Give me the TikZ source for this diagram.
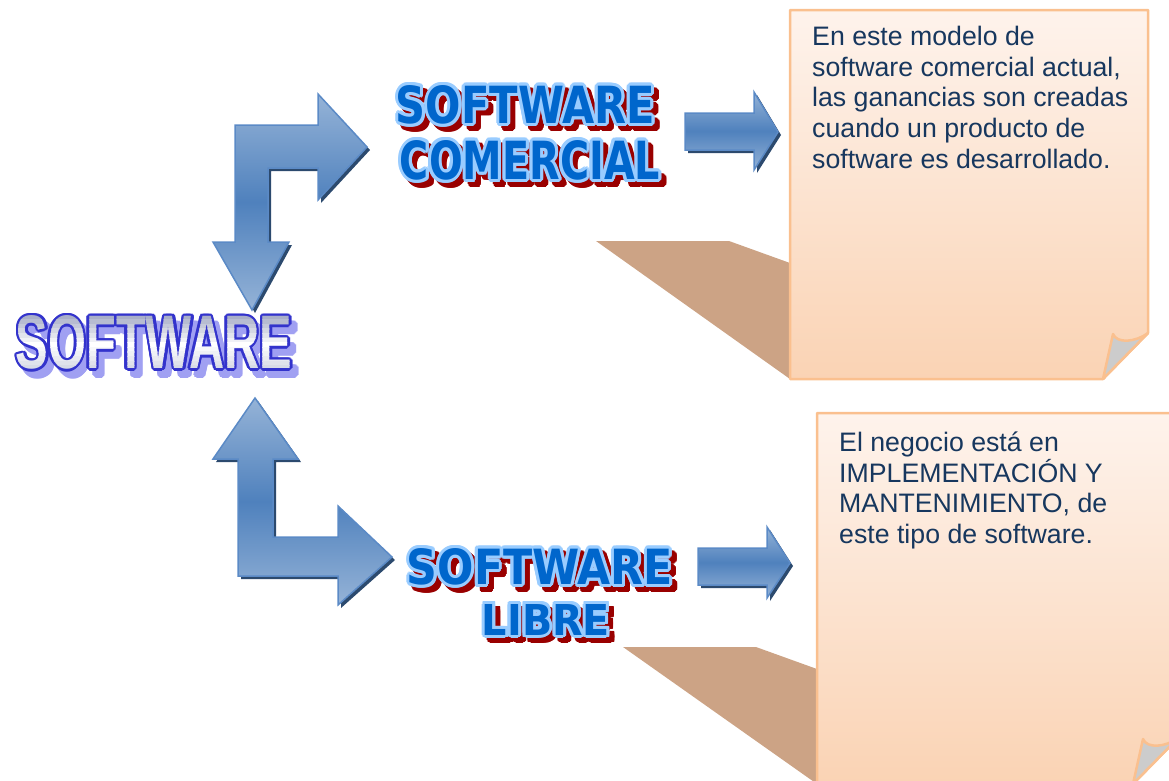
\documentclass[tikz,border=0pt]{standalone}
\usepackage{fontspec}
\setmainfont{Liberation Sans}
\newfontfamily\comfont{DejaVu Sans}
\newfontfamily\bigfont{Liberation Sans}
\usetikzlibrary{calc}
\definecolor{notetop}{HTML}{FEF3EC}
\definecolor{notebot}{HTML}{FAD3B4}
\definecolor{noteline}{HTML}{FAC08F}
\definecolor{notefold}{HTML}{CCCCCC}
\definecolor{noteshadow}{HTML}{CCA385}
\definecolor{notetext}{HTML}{17375E}
\definecolor{arrowlight}{HTML}{95B3D7}
\definecolor{arrowmid}{HTML}{4F81BD}
\definecolor{arrowline}{HTML}{5B8AC6}
\definecolor{arrowshadow}{HTML}{2C4A6E}
\definecolor{wafill}{HTML}{0066CC}
\definecolor{waline}{HTML}{99CCFF}
\definecolor{washadow}{HTML}{990000}
\definecolor{swline}{HTML}{3333CC}
\definecolor{swshadow}{HTML}{A0A0F2}
\definecolor{swtop}{HTML}{A9AFC8}
\tikzset{
  wa/.style={inner sep=0pt, anchor=center},
  blockarrow/.style={top color=arrowlight, bottom color=arrowlight, middle color=arrowmid,
    draw=arrowline, line width=1.5pt, line join=miter},
  arrowshade/.style={fill=arrowshadow, shift={(3,3)}},
  note/.style={top color=notetop, bottom color=notebot, draw=noteline, line width=2.5pt, line join=round},
  notefoldstyle/.style={fill=notefold, draw=noteline, line width=2.5pt, line join=round},
  noteshadowstyle/.style={fill=noteshadow},
  bodytext/.style={font=\fontsize{26.7}{30.7}\selectfont, text=notetext, align=left, inner sep=0pt, anchor=north west}
}
\newcommand{\comtxt}[3]{\resizebox{#1pt}{#2pt}{\comfont\bfseries #3}}
\newcommand{\redword}[6]{%
  \foreach \a in {0,22.5,...,337.5}{\node[wa, text=washadow] at ($(#2,#3)+(5,5)+(\a:3)$) {\comtxt{#4}{#5}{#6}};}
  \foreach \a in {0,22.5,...,337.5}{\node[wa, text=waline] at ($(#2,#3)+(\a:3)$) {\comtxt{#4}{#5}{#6}};}
  \node[wa, text=wafill] (#1) at (#2,#3) {\comtxt{#4}{#5}{#6}};
}
\newcommand{\bigtxt}{\resizebox{276pt}{53pt}{\bigfont\bfseries SOFTWARE}}
\def\bentA{(252,310) -- (289,242) -- (268,242) -- (268,168) -- (318,168) -- (318,200) -- (367,147) -- (318,94) -- (318,125) -- (235,125) -- (235,242) -- (213,242) -- cycle}
\def\bentB{(255,398) -- (298,459) -- (273,459) -- (273,537) -- (338,537) -- (338,506) -- (392,557) -- (338,605) -- (338,576) -- (238,576) -- (238,459) -- (213,459) -- cycle}
\def\smallA{(685,113) -- (754,113) -- (754,92) -- (778,132) -- (754,170) -- (754,150) -- (685,150) -- cycle}
\def\smallB{(698,548) -- (767,548) -- (767,527) -- (790,563) -- (767,598) -- (767,585) -- (698,585) -- cycle}
\def\noteA{(790,10) -- (1148,10) -- (1148,333) -- (1103,379) -- (790,379) -- cycle}
\def\noteB{(817,413) -- (1178,413) -- (1178,738) -- (1133,784) -- (817,784) -- cycle}
\begin{document}
\begin{tikzpicture}[x=1pt,y=-1pt]
\useasboundingbox (0,0) rectangle (1169,780);
% note shadows
\fill[noteshadowstyle] (596,241) -- (729,241) -- (790,263) -- (790,379) -- cycle;
\fill[noteshadowstyle] (623,647) -- (756,647) -- (817,669) -- (817,784) -- cycle;
% notes
\shade[note] \noteA;
\filldraw[notefoldstyle] (1103,379) -- (1113,334) .. controls (1117,344) and (1136,342) .. (1148,333) -- cycle;
\shade[note] \noteB;
\filldraw[notefoldstyle] (1133,784) -- (1143,739) .. controls (1147,749) and (1166,747) .. (1178,738) -- cycle;
\node[bodytext] (textA) at (812,26) {En este modelo de\\software comercial actual,\\las ganancias son creadas\\cuando un producto de\\software es desarrollado.};
\node[bodytext] (textB) at (839,431.5) {El negocio está en\\IMPLEMENTACIÓN Y\\MANTENIMIENTO, de\\este tipo de software.};
% arrows
\fill[arrowshade] \bentA;
\shade[blockarrow] \bentA;
\fill[arrowshade] \bentB;
\shade[blockarrow] \bentB;
\fill[arrowshade] \smallA;
\shade[blockarrow] \smallA;
\fill[arrowshade] \smallB;
\shade[blockarrow] \smallB;
% word art
\redword{comA}{525.5}{105}{259}{38}{SOFTWARE}
\redword{comB}{530}{160.5}{260}{39}{COMERCIAL}
\redword{libA}{540}{567}{266}{36}{SOFTWARE}
\redword{libB}{546}{619.5}{128}{31}{LIBRE}
% big SOFTWARE
\foreach \a in {0,30,...,330}{\node[wa, text=swshadow] at ($(154,342.5)+(6,7)+(\a:2.5)$) {\bigtxt};}
\foreach \a in {0,30,...,330}{\node[wa, text=swline] at ($(154,342.5)+(\a:2.5)$) {\bigtxt};}
\node[wa, text=swline] (software) at (154,342.5) {\bigtxt};
\foreach \i in {0,...,11}{
  \pgfmathtruncatemacro\p{\i<=6 ? 100*\i/6 : 100-(\i-6)*9}
  \begin{scope}
    \clip (0,{315+\i*4.6}) rectangle (320,{315+(\i+1)*4.6+0.3});
    \node[wa, text=white!\p!swtop] at (154,342.5) {\bigtxt};
  \end{scope}
}
\end{tikzpicture}
\end{document}
